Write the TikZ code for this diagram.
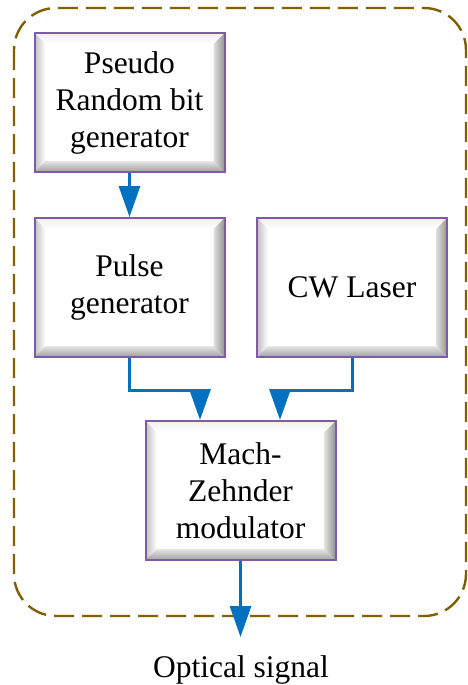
\documentclass[tikz,border=0pt]{standalone}
\usepackage{fontspec}
\setmainfont{Liberation Serif}
\usetikzlibrary{arrows.meta,calc}
\definecolor{boxpurple}{HTML}{7E5AA8}
\definecolor{arrowblue}{HTML}{0070C0}
\definecolor{dashbrown}{HTML}{7F6000}
\tikzset{
  bevelbox/.style={rectangle, minimum width=190pt, minimum height=139pt, inner sep=0pt,
    draw=boxpurple, line width=2pt, fill=white, align=center,
    font=\fontsize{31.5}{37}\selectfont,
    path picture={
      \coordinate (bnw) at (path picture bounding box.north west);
      \coordinate (bne) at (path picture bounding box.north east);
      \coordinate (bsw) at (path picture bounding box.south west);
      \coordinate (bse) at (path picture bounding box.south east);
      \shade[top color=gray!12, bottom color=white]
        (bnw) -- (bne) -- ([shift={(-11pt,-11pt)}]bne) -- ([shift={(11pt,-11pt)}]bnw) -- cycle;
      \shade[left color=gray!50, right color=white]
        (bnw) -- (bsw) -- ([shift={(11pt,11pt)}]bsw) -- ([shift={(11pt,-11pt)}]bnw) -- cycle;
      \shade[left color=gray!25, right color=gray!85]
        (bne) -- (bse) -- ([shift={(-11pt,11pt)}]bse) -- ([shift={(-11pt,-11pt)}]bne) -- cycle;
      \shade[top color=gray!20, bottom color=gray!75]
        (bsw) -- (bse) -- ([shift={(-11pt,11pt)}]bse) -- ([shift={(11pt,11pt)}]bsw) -- cycle;
    }},
  conn/.style={draw=arrowblue, line width=3pt,
    -{Triangle[width=21pt,length=31pt]}, fill=arrowblue},
  plainconn/.style={draw=arrowblue, line width=3pt}
}
\begin{document}
\begin{tikzpicture}[x=1pt,y=-1pt]
\useasboundingbox (0,0) rectangle (468,685);
\draw[dashbrown, line width=2.4pt, dash pattern=on 20pt off 8pt, rounded corners=42pt]
  (14,8) rectangle (466,616);
\node[bevelbox] (prbg) at (129.5,102.5) {Pseudo\\Random bit\\generator};
\node[bevelbox] (pulse) at (129.5,287.5) {Pulse\\generator};
\node[bevelbox] (cw) at (352,287.5) {CW Laser};
\node[bevelbox] (mz) at (240.5,490.5) {Mach-\\Zehnder\\modulator};
\coordinate (j1) at (200,390);
\coordinate (j2) at (280,390);
\coordinate (out) at (240.5,637);
\draw[conn] (prbg.south) -- (pulse.north);
\draw[plainconn] (pulse.south) |- (j1);
\draw[conn] (j1) -- (j1 |- mz.north);
\draw[plainconn] (cw.south) |- (j2);
\draw[conn] (j2) -- (j2 |- mz.north);
\draw[conn] (mz.south) -- (out);
\node[anchor=base, font=\fontsize{31.5}{37}\selectfont] (lbl) at (241,677) {Optical signal};
\end{tikzpicture}
\end{document}
